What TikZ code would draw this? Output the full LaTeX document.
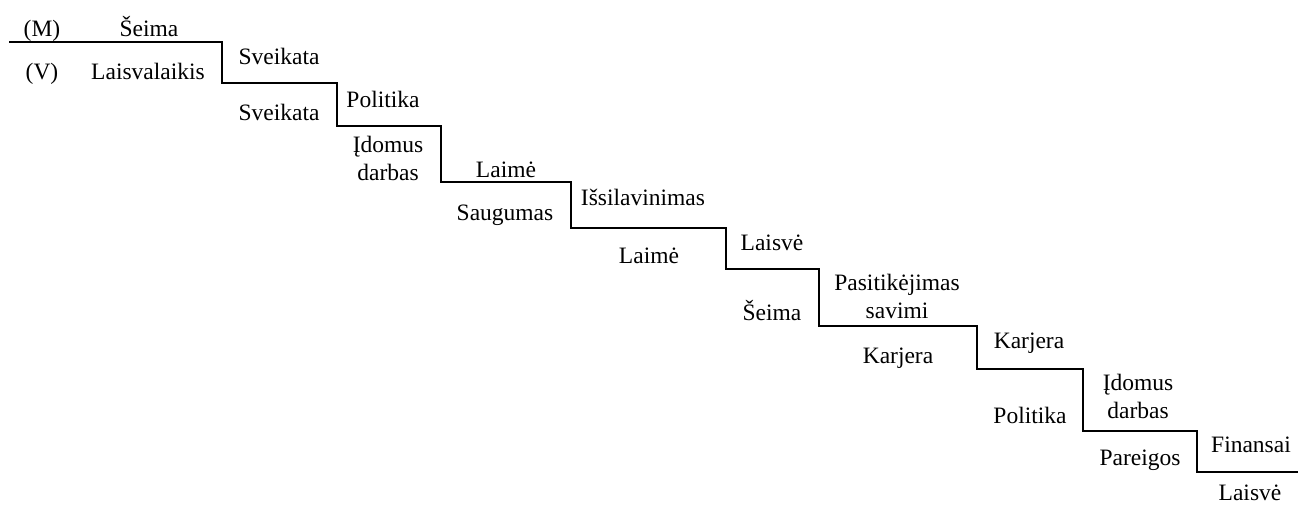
\documentclass[tikz,border=0pt]{standalone}
\usepackage{fontspec}
\setmainfont{Liberation Serif}
\begin{document}
\begin{tikzpicture}[x=1pt,y=-1pt,
  lbl/.style={anchor=base,inner sep=0pt,font=\fontsize{23.5}{28}\selectfont},
  two/.style={lbl,align=center},
  stair/.style={line width=2.2pt,line join=miter}]
\useasboundingbox (0,0) rectangle (1298,512);
% staircase corners
\coordinate (s0) at (9,42);
\coordinate (s1) at (222,42);
\coordinate (s2) at (222,83);
\coordinate (s3) at (337,83);
\coordinate (s4) at (337,126);
\coordinate (s5) at (441,126);
\coordinate (s6) at (441,182);
\coordinate (s7) at (571,182);
\coordinate (s8) at (571,228);
\coordinate (s9) at (726,228);
\coordinate (s10) at (726,269);
\coordinate (s11) at (819,269);
\coordinate (s12) at (819,326);
\coordinate (s13) at (977,326);
\coordinate (s14) at (977,369);
\coordinate (s15) at (1083,369);
\coordinate (s16) at (1083,431);
\coordinate (s17) at (1197,431);
\coordinate (s18) at (1197,472);
\coordinate (s19) at (1298,472);
\draw[stair] (s0) -- (s1) -- (s2) -- (s3) -- (s4) -- (s5) -- (s6) -- (s7) -- (s8) -- (s9) -- (s10) -- (s11) -- (s12) -- (s13) -- (s14) -- (s15) -- (s16) -- (s17) -- (s18) -- (s19);
% upper (M) labels
\node[lbl] (m) at (42,36) {(M)};
\node[lbl] (m1) at (149,36) {Šeima};
\node[lbl] (m2) at (279,64) {Sveikata};
\node[lbl] (m3) at (383,107) {Politika};
\node[lbl] (m4) at (506,177) {Laimė};
\node[lbl] (m5) at (643,205) {Išsilavinimas};
\node[lbl] (m6) at (772,250) {Laisvė};
\node[two] (m7) at (897,318) {Pasitikėjimas\\savimi};
\node[lbl] (m8) at (1029,348) {Karjera};
\node[two] (m9) at (1138,418) {Įdomus\\darbas};
\node[lbl] (m10) at (1251,452) {Finansai};
% lower (V) labels
\node[lbl] (v) at (42,79) {(V)};
\node[lbl] (v1) at (148,79) {Laisvalaikis};
\node[lbl] (v2) at (279,120) {Sveikata};
\node[two] (v3) at (388,180) {Įdomus\\darbas};
\node[lbl] (v4) at (505,220) {Saugumas};
\node[lbl] (v5) at (649,263) {Laimė};
\node[lbl] (v6) at (772,320) {Šeima};
\node[lbl] (v7) at (898,363) {Karjera};
\node[lbl] (v8) at (1030,423) {Politika};
\node[lbl] (v9) at (1140,465) {Pareigos};
\node[lbl] (v10) at (1250,500) {Laisvė};
\end{tikzpicture}
\end{document}
